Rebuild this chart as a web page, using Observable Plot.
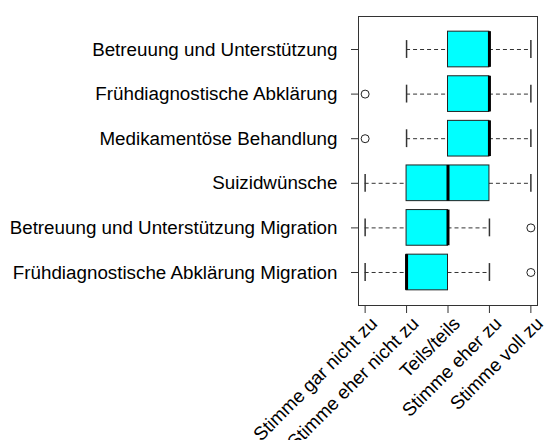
<!DOCTYPE html>
<html>
<head>
<meta charset="utf-8">
<script src="https://cdn.jsdelivr.net/npm/d3@7"></script>
<script src="https://cdn.jsdelivr.net/npm/@observablehq/plot@0.6"></script>
<style>
  html, body { margin: 0; padding: 0; background: #fff; }
  #chart svg { display: block; }
</style>
</head>
<body>
<div id="chart"></div>
<script>
// Categories, top to bottom as shown
const categories = [
  "Betreuung und Unterstützung",
  "Frühdiagnostische Abklärung",
  "Medikamentöse Behandlung",
  "Suizidwünsche",
  "Betreuung und Unterstützung Migration",
  "Frühdiagnostische Abklärung Migration"
];
const whiskerLow  = [2, 2, 2, 1, 1, 1];
const q1          = [3, 3, 3, 2, 2, 2];
const median      = [4, 4, 4, 3, 3, 2];
const q3          = [4, 4, 4, 4, 3, 3];
const whiskerHigh = [5, 5, 5, 5, 4, 4];
const outliers    = [[], [1], [1], [], [5], [5]];

const levelValues = [1, 2, 3, 4, 5];
const levelLabels = ["Stimme gar nicht zu", "Stimme eher nicht zu", "Teils/teils", "Stimme eher zu", "Stimme voll zu"];

const n = categories.length;
const boxes = categories.map((c, i) => ({
  cat: c, pos: n - i,
  lo: whiskerLow[i], q1: q1[i], med: median[i], q3: q3[i], hi: whiskerHigh[i]
}));
const outlierData = [];
categories.forEach((c, i) => outliers[i].forEach(v => outlierData.push({pos: n - i, v})));
const posLabel = new Map(boxes.map(b => [b.pos, b.cat]));

const boxHalf = 0.4, stapleHalf = 0.2;

const chart = Plot.plot({
  width: 544,
  height: 440,
  marginLeft: 358,
  marginRight: 7,
  marginTop: 16,
  marginBottom: 135,
  style: {fontFamily: "'Liberation Sans', Arial, sans-serif", fontSize: "18.8px", color: "#000", background: "#fff"},
  x: {domain: [0.84, 5.16], label: null},
  y: {domain: [0.26, 6.74], label: null},
  marks: [
    // whiskers (dashed)
    Plot.ruleY(boxes, {y: "pos", x1: "lo", x2: "q1", stroke: "#333", strokeDasharray: "4,3"}),
    Plot.ruleY(boxes, {y: "pos", x1: "q3", x2: "hi", stroke: "#333", strokeDasharray: "4,3"}),
    // staples
    Plot.ruleX(boxes, {x: "lo", y1: d => d.pos - stapleHalf, y2: d => d.pos + stapleHalf, stroke: "#333", strokeWidth: 1.5}),
    Plot.ruleX(boxes, {x: "hi", y1: d => d.pos - stapleHalf, y2: d => d.pos + stapleHalf, stroke: "#333", strokeWidth: 1.5}),
    // boxes
    Plot.rect(boxes, {x1: "q1", x2: "q3", y1: d => d.pos - boxHalf, y2: d => d.pos + boxHalf, fill: "#00FFFF", stroke: "#222", strokeWidth: 1}),
    // medians
    Plot.ruleX(boxes, {x: "med", y1: d => d.pos - boxHalf, y2: d => d.pos + boxHalf, stroke: "#000", strokeWidth: 3}),
    // outliers
    Plot.dot(outlierData, {x: "v", y: "pos", r: 4, stroke: "#222", fill: "none", strokeWidth: 1}),
    // frame
    Plot.frame({stroke: "#333"}),
    // axes
    Plot.axisY({ticks: boxes.map(b => b.pos), tickFormat: d => posLabel.get(d), tickSize: 7, tickPadding: 14, stroke: "#333", fill: "#000", fontSize: 18.8, label: null}),
    // x ticks only
    Plot.axisX({ticks: levelValues, tickFormat: () => "", tickSize: 8, stroke: "#333", label: null}),
    // x tick labels, rotated
    Plot.axisX({ticks: levelValues, tickFormat: d => levelLabels[levelValues.indexOf(d)], tickSize: 0, tickPadding: 12, tickRotate: -45, fill: "#000", fontSize: 18.8, label: null, dx: 9, dy: 3})
  ]
});
document.getElementById("chart").appendChild(chart);
</script>
</body>
</html>
